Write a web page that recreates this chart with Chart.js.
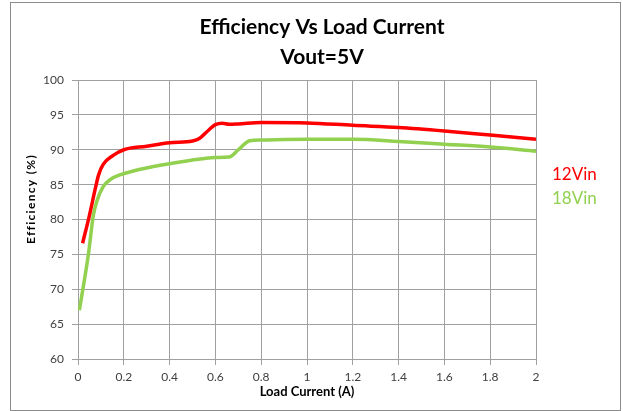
<!DOCTYPE html>
<html>
<head>
<meta charset="utf-8">
<script src="https://cdn.jsdelivr.net/npm/chart.js@4.4.1/dist/chart.umd.min.js"></script>
<style>
  html, body { margin: 0; padding: 0; background: #fff; }
  #wrap { position: relative; width: 623px; height: 411px; }
  #frame { position: absolute; left: 10px; top: 2px; width: 609px; height: 407px; border: 1px solid #8c8c8c; pointer-events: none; }
  canvas { position: absolute; left: 0; top: 0; }
</style>
</head>
<body>
<div id="wrap">
  <canvas id="c" width="623" height="411"></canvas>
  <div id="frame"></div>
</div>
<script>
const titleLines = ['Efficiency Vs Load Current', 'Vout=5V'];
const xAxisTitle = 'Load Current (A)';
const yAxisTitle = 'Efficiency (%)';
const seriesNames = ['12Vin', '18Vin'];
const seriesColors = ['#ff0000', '#92d050'];

const x12 = [0.02, 0.05, 0.074, 0.09, 0.11, 0.154, 0.2, 0.3, 0.4, 0.5, 0.53, 0.57, 0.6, 0.63, 0.66, 0.7, 0.8, 1.0, 1.2, 1.4, 1.6, 1.8, 2.0];
const y12 = [76.6, 80.6, 84.2, 86.4, 87.9, 89.2, 90.0, 90.5, 91.0, 91.25, 91.6, 92.8, 93.6, 93.8, 93.65, 93.7, 93.9, 93.85, 93.5, 93.2, 92.7, 92.1, 91.5];

const x18 = [0.006, 0.045, 0.067, 0.082, 0.11, 0.14, 0.183, 0.33, 0.475, 0.6, 0.66, 0.7, 0.75, 0.8, 1.0, 1.2, 1.4, 1.6, 1.8, 2.0];
const y18 = [67.0, 74.9, 80.6, 82.6, 84.7, 85.7, 86.4, 87.6, 88.4, 88.9, 88.95, 90.0, 91.3, 91.4, 91.5, 91.5, 91.2, 90.8, 90.4, 89.8];

const xTicks = [0, 0.2, 0.4, 0.6, 0.8, 1, 1.2, 1.4, 1.6, 1.8, 2];
const yTicks = [60, 65, 70, 75, 80, 85, 90, 95, 100];

function pts(xs, ys) { return xs.map((x, i) => ({ x: x, y: ys[i] })); }

const extraText = {
  id: 'extraText',
  afterDraw(chart) {
    const ctx = chart.ctx;
    const a = chart.chartArea;
    ctx.save();
    // chart title (centred on the outer frame)
    ctx.font = 'bold 21px Lato';
    ctx.textAlign = 'center';
    ctx.textBaseline = 'middle';
    ctx.fillStyle = '#000';
    ctx.fillText(titleLines[0], 322, 27);
    ctx.fillText(titleLines[1], 322, 57);
    // series labels
    ctx.font = '17px Lato';
    ctx.textAlign = 'left';
    ctx.fillStyle = seriesColors[0];
    ctx.fillText(seriesNames[0], a.right + 16, 175);
    ctx.fillStyle = seriesColors[1];
    ctx.fillText(seriesNames[1], a.right + 16, 199);
    // y axis title
    ctx.translate(31, 199);
    ctx.rotate(-Math.PI / 2);
    ctx.font = 'bold 12px Lato';
    if ('letterSpacing' in ctx) ctx.letterSpacing = '1.3px';
    ctx.textAlign = 'center';
    ctx.fillStyle = '#000';
    ctx.fillText(yAxisTitle, 0, 0);
    ctx.restore();
  }
};

const gridColor = '#a0a0a0';

new Chart(document.getElementById('c'), {
  type: 'scatter',
  data: {
    datasets: [
      { label: seriesNames[0], data: pts(x12, y12), showLine: true, borderColor: seriesColors[0], backgroundColor: seriesColors[0], borderWidth: 3.5, pointRadius: 0, cubicInterpolationMode: 'monotone' },
      { label: seriesNames[1], data: pts(x18, y18), showLine: true, borderColor: seriesColors[1], backgroundColor: seriesColors[1], borderWidth: 3.5, pointRadius: 0, cubicInterpolationMode: 'monotone' }
    ]
  },
  options: {
    responsive: false,
    animation: false,
    layout: { padding: { left: 25, right: 87, top: 80, bottom: 0 } },
    plugins: {
      legend: { display: false },
      tooltip: { enabled: false },
      title: { display: false }
    },
    scales: {
      x: {
        type: 'linear',
        min: 0, max: 2,
        afterBuildTicks(s) { s.ticks = xTicks.map(v => ({ value: v })); },
        afterFit(s) { s.height = 52; },
        grid: { color: gridColor, tickLength: 6, tickColor: gridColor },
        border: { color: gridColor },
        ticks: { color: '#404040', padding: 5, font: { family: 'Lato', size: 12 }, maxRotation: 0, autoSkip: false, callback: v => String(v) },
        title: { display: true, text: xAxisTitle, color: '#000', font: { family: 'Lato', size: 13, weight: 'bold' }, padding: { top: 0, bottom: 11 } }
      },
      y: {
        type: 'linear',
        min: 60, max: 100,
        afterBuildTicks(s) { s.ticks = yTicks.map(v => ({ value: v })); },
        afterFit(s) { s.width = 53; },
        grid: { color: gridColor, tickLength: 6, tickColor: gridColor },
        border: { color: gridColor },
        ticks: { color: '#404040', padding: 8, font: { family: 'Lato', size: 12 }, autoSkip: false },
        title: { display: false }
      }
    }
  },
  plugins: [extraText]
});
</script>
</body>
</html>
